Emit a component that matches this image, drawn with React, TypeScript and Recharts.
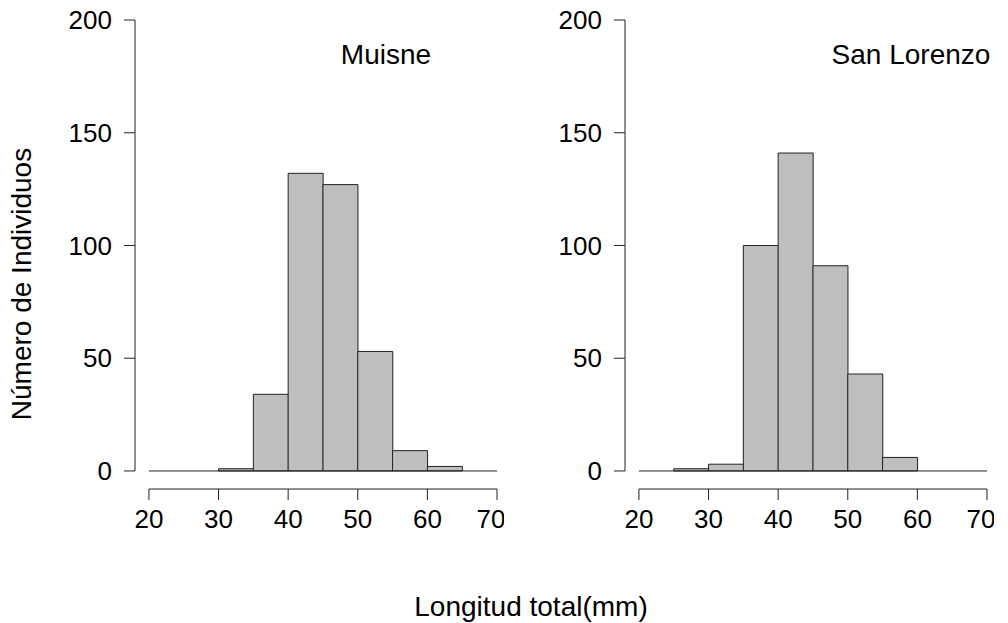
import React from "react";
import {
  ComposedChart,
  Bar,
  XAxis,
  YAxis,
  ReferenceLine,
} from "recharts";

// histogram bins (mm), 5 mm wide
const binStarts = [20, 25, 30, 35, 40, 45, 50, 55, 60, 65];
const muisneCounts = [0, 0, 1, 34, 132, 127, 53, 9, 2, 0];
const sanLorenzoCounts = [0, 1, 3, 100, 141, 91, 43, 6, 0, 0];

const xTicks = [20, 30, 40, 50, 60, 70];
const yTicks = [0, 50, 100, 150, 200];

const FONT = '"Liberation Sans", Arial, Helvetica, sans-serif';
const INK = "#222";

type PanelProps = {
  title: string;
  counts: number[];
  left: number;
};

function Panel({ title, counts, left }: PanelProps) {
  const data = binStarts.map((s, i) => ({ mid: s + 2.5, count: counts[i] }));
  return (
    <div style={{ position: "absolute", left, top: 0, width: 504, height: 560 }}>
      <ComposedChart
        width={504}
        height={560}
        data={data}
        margin={{ top: 20, right: 7, bottom: 0, left: 0 }}
        barCategoryGap={0}
        barGap={0}
      >
        <XAxis
          dataKey="mid"
          type="number"
          domain={[18, 70]}
          allowDataOverflow
          ticks={xTicks}
          height={71}
          axisLine={false}
          tickLine={{ stroke: INK }}
          tickSize={11}
          tickMargin={10}
          tick={{ fill: "#000", fontSize: 26, fontFamily: FONT }}
        />
        <YAxis
          type="number"
          domain={[-8, 200]}
          allowDataOverflow
          ticks={yTicks}
          width={135}
          axisLine={false}
          tickLine={{ stroke: INK }}
          tickSize={11}
          tickMargin={12}
          tick={{ fill: "#000", fontSize: 26, fontFamily: FONT }}
        />
        <ReferenceLine
          segment={[{ x: 18, y: 0 }, { x: 18, y: 200 }]}
          stroke={INK}
          strokeWidth={1}
        />
        <ReferenceLine
          segment={[{ x: 20, y: -8 }, { x: 70, y: -8 }]}
          stroke={INK}
          strokeWidth={1}
        />
        <ReferenceLine
          segment={[{ x: 20, y: 0 }, { x: 70, y: 0 }]}
          stroke={INK}
          strokeWidth={1}
        />
        <Bar
          dataKey="count"
          fill="#bebebe"
          stroke={INK}
          strokeWidth={1}
          isAnimationActive={false}
        />
      </ComposedChart>
      <svg
        width={504}
        height={560}
        style={{ position: "absolute", left: 0, top: 0, pointerEvents: "none" }}
      >
        <text
          x={left === 0 ? 386 : 421}
          y={64}
          textAnchor="middle"
          fontSize={28}
          fontFamily={FONT}
          fill="#000"
        >
          {title}
        </text>
      </svg>
    </div>
  );
}

export default function App() {
  return (
    <div
      style={{
        position: "absolute",
        left: 0,
        top: 0,
        width: 1008,
        height: 623,
        background: "#fff",
        overflow: "hidden",
      }}
    >
      <Panel title="Muisne" counts={muisneCounts} left={0} />
      <Panel title="San Lorenzo" counts={sanLorenzoCounts} left={490} />
      <svg
        width={1008}
        height={623}
        style={{ position: "absolute", left: 0, top: 0, pointerEvents: "none" }}
      >
        <text
          x={531}
          y={616}
          textAnchor="middle"
          fontSize={28}
          fontFamily={FONT}
          fill="#000"
        >
          Longitud total(mm)
        </text>
        <text
          x={31}
          y={284}
          transform="rotate(-90 31 284)"
          textAnchor="middle"
          fontSize={28}
          fontFamily={FONT}
          fill="#000"
        >
          Número de Individuos
        </text>
      </svg>
    </div>
  );
}
